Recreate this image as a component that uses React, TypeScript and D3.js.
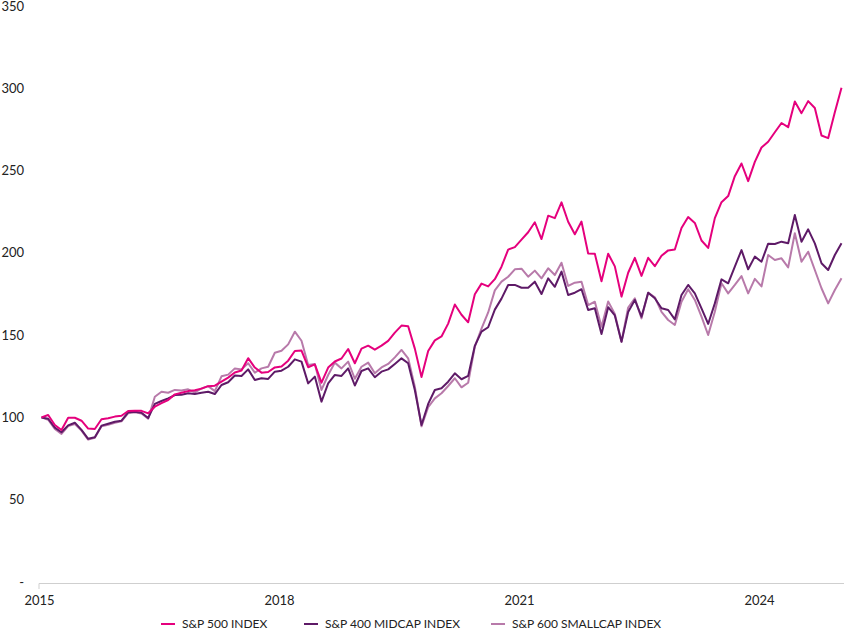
import React from 'react';
import * as d3 from 'd3';

// Monthly index levels (base 100)
const sp500: number[] = [
  100, 101.5, 95.4, 92.4, 99.8, 99.8, 98, 93.2, 93, 98.9,
  99.5, 100.5, 101, 103.9, 104, 104, 102.5, 106.5, 108.7, 110.6,
  114, 115, 116, 116.5, 117.5, 119, 119.3, 121.8, 124.2, 127.3,
  128.5, 136, 130.3, 127.2, 127.6, 130.4, 131, 134.5, 140.4, 140.6,
  130.5, 132.2, 121.1, 130.3, 134, 135.8, 141.6, 132.9, 141.8, 143.6,
  141.2, 143.6, 146.5, 151.5, 155.8, 155.4, 141.8, 124.6, 140.4, 146.8,
  149.2, 157, 168.6, 162.4, 157.8, 174.8, 181.3, 179.6, 184, 191.6,
  202, 203.5, 208, 212.5, 218.6, 208.4, 222.6, 221.1, 230.7, 218.9,
  211.3, 219, 199.6, 199.4, 182.8, 199.5, 191.8, 173.4, 187.9, 197,
  186, 197, 191.9, 198.2, 201.5, 202, 215.1, 221.8, 218.2, 207.5,
  203, 221.1, 230.8, 234.5, 246.6, 254.3, 243.6, 255.3, 264, 267.5,
  273.3, 278.9, 276.4, 292, 284.9, 292.2, 288, 271.3, 269.7, 285.5,
  300.3,
];

const sp400: number[] = [
  100, 99.2, 93.8, 91, 95.2, 96.8, 92.4, 87, 88, 95,
  96.2, 97.4, 98, 103.1, 103.5, 102.9, 99.6, 108.2, 110, 111.6,
  113.6, 113.8, 114.7, 114.3, 115, 115.6, 114.2, 119.7, 121.4, 125.5,
  125.2, 129.2, 122.7, 123.8, 123.4, 127.8, 128.4, 130.8, 135.3, 133.9,
  120.7, 124.8, 109.6, 120.7, 125.8, 125.2, 129.8, 119.4, 128.2, 129.8,
  124.4, 127.8, 129.2, 132.5, 135.9, 132.9, 116.7, 95.4, 108.2, 116.7,
  117.7, 121.7, 126.8, 123.2, 125.2, 143.5, 152.1, 154.8, 165.5, 172.2,
  180.5, 180.5, 178.8, 178.8, 182.5, 175, 184.5, 179.4, 188.6, 174.4,
  175.8, 177.9, 165.3, 166.3, 150.7, 167, 162, 146, 164, 171.4,
  161.2, 175.8, 172.4, 166.3, 165.3, 159.6, 174.4, 180.5, 175.4, 166.3,
  156.8, 169.3, 183.9, 181.5, 191.6, 201.7, 190, 197.7, 194.6, 205.6,
  205.4, 206.8, 205.8, 223, 206.8, 214.3, 205.8, 193.7, 189.6, 198.7,
  205.8,
];

const sp600: number[] = [
  100, 98.6, 93, 90, 94.8, 96, 92, 86.5, 87.6, 94.6,
  95.6, 96.8, 97.6, 102.6, 103.2, 102.4, 99.2, 112.6, 115.6, 115,
  116.7, 116.3, 117.1, 115.2, 117.6, 119, 116, 125, 126, 129.8,
  129.2, 132.9, 127.2, 129.8, 130.8, 139.3, 140.5, 144.4, 152.1, 146.6,
  131.9, 132.5, 116.7, 125.8, 133.3, 129.8, 133.9, 123.5, 130.8, 133.3,
  126.8, 130.4, 132.5, 136.5, 141, 135.9, 118.7, 94.6, 106.2, 111.6,
  114.7, 119.1, 123.8, 118.3, 121.1, 143, 154, 163.8, 177.2, 182.5,
  185.5, 190, 190.4, 185.5, 189.2, 184.5, 190.6, 186.5, 194, 179.9,
  181.9, 182.5, 168.3, 170.3, 155.1, 170.5, 162.8, 146, 166.8, 172.4,
  160.2, 175.8, 173, 164.2, 159.2, 156.2, 170.3, 177.9, 171.4, 161.2,
  150.1, 164.2, 181.5, 175.4, 180.5, 185.9, 175.4, 184.2, 179.6, 198.7,
  195.7, 196.7, 191.2, 211.9, 194.6, 200.7, 189.6, 178.5, 169.3, 177.4,
  184.5,
];

const seriesNames = ['S&P 500 INDEX', 'S&P 400 MIDCAP INDEX', 'S&P 600 SMALLCAP INDEX'];
const seriesColors = ['#e5007d', '#5e1a67', '#b87aaa'];
const yTicks = [0, 50, 100, 150, 200, 250, 300, 350];
const xTickIndex = [0, 36, 72, 108];
const xTickLabels = ['2015', '2018', '2021', '2024'];

const W = 844;
const H = 639;
const FONT = 'Lato, "Noto Sans", sans-serif';

export default function App() {
  const allSeries = [sp500, sp400, sp600];
  const idx = d3.range(sp500.length);
  const x = d3.scalePoint<number>().domain(idx).range([41.5, 841.5]);
  const y = d3.scaleLinear().domain([0, 350]).range([582, 6]);
  const line = d3
    .line<number>()
    .x((_, i) => x(i) as number)
    .y((d) => y(d));

  const legendX = [161, 304, 491];

  return (
    <svg
      width={W}
      height={H}
      style={{ position: 'absolute', left: 0, top: 0, background: '#fff' }}
      fontFamily={FONT}
    >
      {/* y axis labels */}
      {yTicks.map((t) => (
        <text
          key={t}
          x={24}
          y={y(t)}
          dy="0.35em"
          textAnchor="end"
          fontSize={13}
          fill="#222"
        >
          {t === 0 ? '-' : String(t)}
        </text>
      ))}
      {/* x axis */}
      <line x1={39} x2={844} y1={583.5} y2={583.5} stroke="#cfcfcf" strokeWidth={1} />
      <line x1={39} x2={39} y1={583.5} y2={589} stroke="#cfcfcf" strokeWidth={1} />
      {xTickIndex.map((ti, k) => (
        <text
          key={ti}
          x={(x(ti) as number) - 2}
          y={605}
          textAnchor="middle"
          fontSize={13}
          fill="#222"
        >
          {xTickLabels[k]}
        </text>
      ))}
      {/* lines: draw smallcap, midcap, then S&P 500 */}
      {[2, 1, 0].map((s) => (
        <path
          key={s}
          d={line(allSeries[s]) || ''}
          fill="none"
          stroke={seriesColors[s]}
          strokeWidth={2}
          strokeLinejoin="round"
        />
      ))}
      {/* legend */}
      {seriesNames.map((n, k) => (
        <g key={n} transform={`translate(${legendX[k]},624)`}>
          <line x1={0} x2={14} y1={0} y2={0} stroke={seriesColors[k]} strokeWidth={2} />
          <text x={21} y={0} dy="0.35em" fontSize={12} fill="#222">
            {n}
          </text>
        </g>
      ))}
    </svg>
  );
}
